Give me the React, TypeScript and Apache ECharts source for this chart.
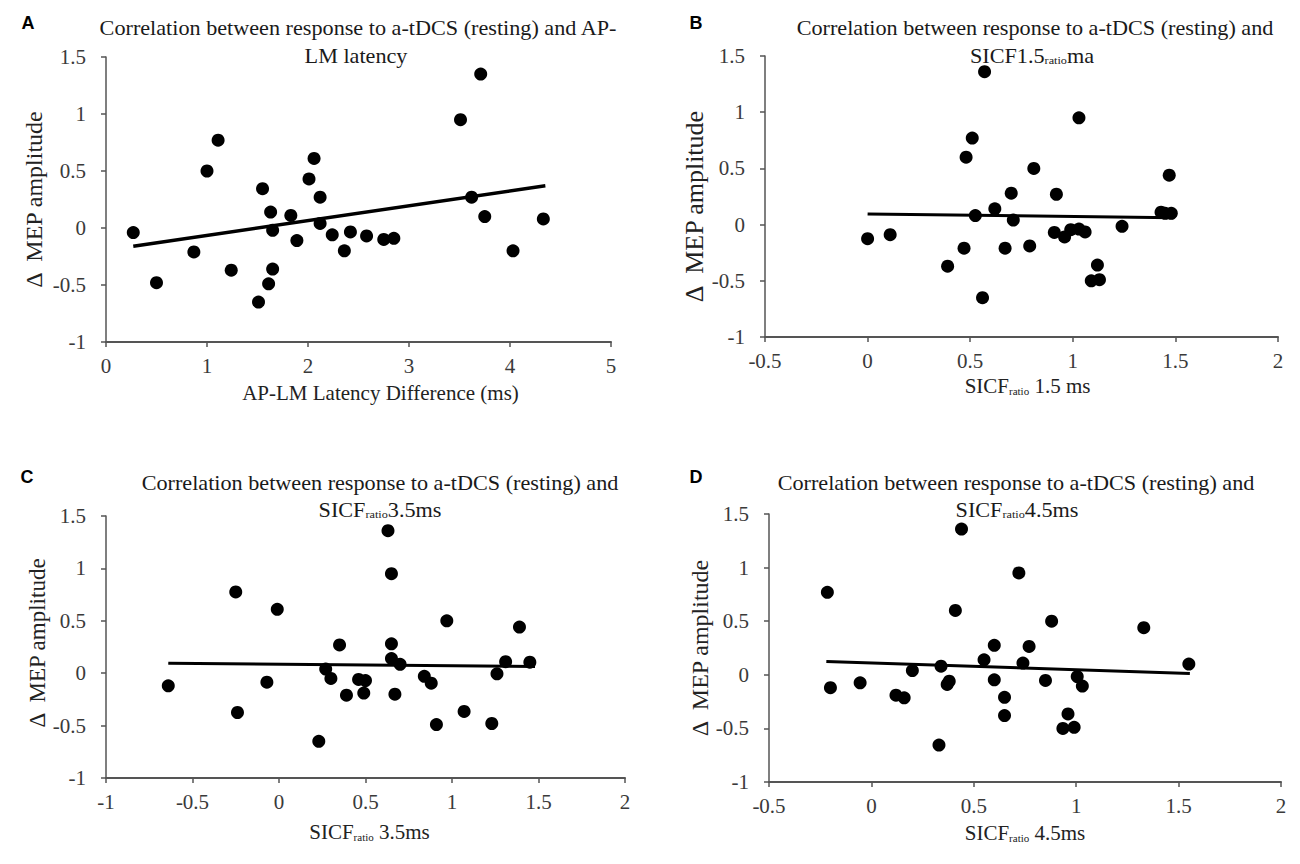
import React, { useEffect, useRef } from "react";
import * as echarts from "echarts";

// ---- Panel A: AP-LM latency difference vs Δ MEP amplitude
const aX = [0.27, 0.5, 0.87, 1.0, 1.11, 1.24, 1.51, 1.55, 1.61, 1.63, 1.65, 1.65, 1.83, 1.89, 2.01, 2.06, 2.12, 2.12, 2.24, 2.36, 2.42, 2.58, 2.75, 2.85, 3.51, 3.62, 3.71, 3.75, 4.03, 4.33];
const aY = [-0.04, -0.48, -0.21, 0.5, 0.77, -0.37, -0.65, 0.345, -0.49, 0.14, -0.02, -0.36, 0.11, -0.11, 0.43, 0.61, 0.27, 0.04, -0.06, -0.2, -0.035, -0.07, -0.1, -0.09, 0.95, 0.27, 1.35, 0.1, -0.2, 0.08];
const aTrendX = [0.27, 4.35];
const aTrendY = [-0.16, 0.37];

// ---- Panel B: SICF ratio 1.5 ms
const bX = [0.0, 0.11, 0.39, 0.47, 0.48, 0.51, 0.525, 0.56, 0.57, 0.62, 0.67, 0.7, 0.71, 0.79, 0.81, 0.91, 0.92, 0.96, 0.99, 1.03, 1.03, 1.06, 1.09, 1.12, 1.13, 1.24, 1.43, 1.45, 1.47, 1.48];
const bY = [-0.125, -0.09, -0.37, -0.21, 0.6, 0.77, 0.08, -0.65, 1.36, 0.14, -0.21, 0.28, 0.04, -0.19, 0.5, -0.07, 0.27, -0.11, -0.045, -0.04, 0.95, -0.065, -0.5, -0.36, -0.49, -0.015, 0.11, 0.1, 0.44, 0.1];
const bTrendX = [0.0, 1.49];
const bTrendY = [0.095, 0.062];

// ---- Panel C: SICF ratio 3.5 ms
const cX = [-0.64, -0.25, -0.24, -0.07, -0.01, 0.23, 0.27, 0.3, 0.35, 0.39, 0.46, 0.49, 0.5, 0.63, 0.65, 0.65, 0.65, 0.67, 0.7, 0.84, 0.88, 0.91, 0.97, 1.07, 1.23, 1.26, 1.31, 1.39, 1.45];
const cY = [-0.12, 0.775, -0.375, -0.086, 0.61, -0.65, 0.04, -0.05, 0.27, -0.21, -0.06, -0.19, -0.07, 1.36, 0.95, 0.28, 0.14, -0.2, 0.085, -0.03, -0.095, -0.49, 0.5, -0.365, -0.48, -0.006, 0.11, 0.44, 0.105];
const cTrendX = [-0.64, 1.48];
const cTrendY = [0.095, 0.064];

// ---- Panel D: SICF ratio 4.5 ms
const dX = [-0.215, -0.2, -0.055, 0.12, 0.16, 0.2, 0.33, 0.34, 0.37, 0.38, 0.41, 0.44, 0.55, 0.6, 0.6, 0.65, 0.65, 0.72, 0.74, 0.77, 0.85, 0.88, 0.935, 0.96, 0.99, 1.005, 1.03, 1.33, 1.55];
const dY = [0.77, -0.12, -0.075, -0.19, -0.215, 0.04, -0.655, 0.08, -0.09, -0.06, 0.6, 1.36, 0.14, 0.275, -0.047, -0.21, -0.38, 0.95, 0.11, 0.265, -0.053, 0.5, -0.5, -0.365, -0.49, -0.016, -0.105, 0.44, 0.1];
const dTrendX = [-0.22, 1.555];
const dTrendY = [0.125, 0.013];

// ---- Axis ranges
const xRanges = [
  { min: 0, max: 5, interval: 1 },
  { min: -0.5, max: 2, interval: 0.5 },
  { min: -1, max: 2, interval: 0.5 },
  { min: -0.5, max: 2, interval: 0.5 },
];
const yRange = { min: -1, max: 1.5, interval: 0.5 };

// ---- Texts
const panelLetters = ["A", "B", "C", "D"];
const titleLine1 = [
  "Correlation between response to a-tDCS (resting) and AP-",
  "Correlation between response to a-tDCS (resting) and",
  "Correlation between response to a-tDCS (resting) and",
  "Correlation between response to a-tDCS (resting) and",
];
const titleLine2 = [
  "LM latency",
  "SICF1.5{sub|ratio}ma",
  "SICF{sub|ratio}3.5ms",
  "SICF{sub|ratio}4.5ms",
];
const xNames = [
  "{t|AP-LM Latency Difference (ms)}",
  "{t|SICF}{sub|ratio}{t| 1.5 ms}",
  "{t|SICF}{sub|ratio}{t| 3.5ms}",
  "{t|SICF}{sub|ratio}{t| 4.5ms}",
];
const yName = "{n|Δ  MEP amplitude}";

const SERIF = "Liberation Serif";

export default function App() {
  const ref = useRef<HTMLDivElement>(null);

  useEffect(() => {
    if (!ref.current) return;
    const chart = echarts.init(ref.current, undefined, { renderer: "svg" });

    const grids = [
      { left: 106, top: 57, width: 505, height: 285 },
      { left: 765, top: 56, width: 513, height: 281 },
      { left: 106, top: 516, width: 519, height: 262 },
      { left: 769, top: 514, width: 512, height: 268 },
    ];
    const xNameGaps = [40, 38, 43, 40];
    const yNameGaps = [60, 51, 50, 55];
    const yNameSizes = [24, 26, 23, 24];
    const yNamePad = [[0, 0, 0, 0], [0, 20, 0, 0], [0, 0, 0, 8], [0, 0, 0, 0]];
    const xNamePad = [[0, 0, 0, 44], [0, 0, 0, 12], [0, 0, 0, 8], [0, 0, 0, 0]];

    const subRich = {
      sub: { fontSize: 11, fontFamily: SERIF, fill: "#222", color: "#222", verticalAlign: "bottom" },
    };

    const points = [
      [aX, aY],
      [bX, bY],
      [cX, cY],
      [dX, dY],
    ];
    const trends = [
      [aTrendX, aTrendY],
      [bTrendX, bTrendY],
      [cTrendX, cTrendY],
      [dTrendX, dTrendY],
    ];

    const axisLineColor = "#555";
    const labelRich = {
      v: { fontFamily: SERIF, fontSize: 21, color: "#3a3a3a" },
    };
    const labelFormatter = (v: number) => `{v|${v}}`;

    const xAxis = xRanges.map((r, i) => ({
      type: "value",
      gridIndex: i,
      min: r.min,
      max: r.max,
      interval: r.interval,
      splitLine: { show: false },
      axisLine: { show: true, onZero: false, lineStyle: { color: axisLineColor, width: 2 } },
      axisTick: { show: true, inside: false, length: 5, lineStyle: { color: axisLineColor, width: 1.5 } },
      axisLabel: {
        fontFamily: SERIF,
        fontSize: 21,
        color: "#3a3a3a",
        margin: 13,
        formatter: labelFormatter,
        rich: labelRich,
      },
      name: xNames[i],
      nameLocation: "middle",
      nameGap: xNameGaps[i],
      nameTextStyle: {
        fontFamily: SERIF,
        fontSize: 21,
        color: "#222",
        padding: xNamePad[i],
        rich: {
          t: { fontFamily: SERIF, fontSize: 21, color: "#222", verticalAlign: "bottom" },
          sub: { fontFamily: SERIF, fontSize: 11, color: "#222", verticalAlign: "bottom" },
        },
      },
    }));

    const yAxis = grids.map((_, i) => ({
      type: "value",
      gridIndex: i,
      min: yRange.min,
      max: yRange.max,
      interval: yRange.interval,
      splitLine: { show: false },
      axisLine: { show: true, onZero: false, lineStyle: { color: axisLineColor, width: 1.5 } },
      axisTick: { show: true, inside: false, length: 5, lineStyle: { color: axisLineColor, width: 1.5 } },
      axisLabel: {
        fontFamily: SERIF,
        fontSize: 21,
        color: "#3a3a3a",
        margin: 20,
        formatter: labelFormatter,
        rich: labelRich,
      },
      name: yName,
      nameLocation: "middle",
      nameGap: yNameGaps[i],
      nameRotate: 90,
      nameTextStyle: {
        fontFamily: SERIF,
        fontSize: yNameSizes[i],
        color: "#222",
        padding: yNamePad[i],
        rich: { n: { fontFamily: SERIF, fontSize: yNameSizes[i], color: "#222" } },
      },
    }));

    const series: any[] = [];
    points.forEach(([xs, ys], i) => {
      series.push({
        type: "scatter",
        xAxisIndex: i,
        yAxisIndex: i,
        symbol: "circle",
        symbolSize: 13,
        itemStyle: { color: "#000", opacity: 1 },
        data: xs.map((x, k) => [x, ys[k]]),
        z: 3,
      });
    });
    trends.forEach(([xs, ys], i) => {
      series.push({
        type: "line",
        xAxisIndex: i,
        yAxisIndex: i,
        symbol: "none",
        lineStyle: { color: "#000", width: i === 0 ? 3.5 : 3 },
        data: xs.map((x, k) => [x, ys[k]]),
        z: 2,
      });
    });

    const titlePos = [
      { x1: 358, y1: 28, x2: 356, y2: 56 },
      { x1: 1035, y1: 28, x2: 1032, y2: 56 },
      { x1: 380, y1: 483, x2: 380, y2: 510 },
      { x1: 1016, y1: 483, x2: 1017, y2: 510 },
    ];
    const letterPos = [
      [28, 23],
      [696, 23],
      [27, 477],
      [696, 477],
    ];

    const graphic: any[] = [];
    titlePos.forEach((p, i) => {
      graphic.push({
        type: "text",
        x: p.x1,
        y: p.y1,
        scaleX: 1.11,
        style: {
          text: titleLine1[i],
          fontFamily: SERIF,
          fontSize: 20,
          fill: "#1a1a1a",
          align: "center",
          verticalAlign: "middle",
        },
      });
      graphic.push({
        type: "text",
        x: p.x2,
        y: p.y2,
        scaleX: 1.11,
        style: {
          text: titleLine2[i],
          fontFamily: SERIF,
          fontSize: 20,
          fill: "#1a1a1a",
          align: "center",
          verticalAlign: "middle",
          rich: subRich,
        },
      });
    });
    letterPos.forEach((p, i) => {
      graphic.push({
        type: "text",
        x: p[0],
        y: p[1],
        style: {
          text: panelLetters[i],
          fontFamily: "Liberation Sans",
          fontWeight: "bold",
          fontSize: 18,
          fill: "#000",
          align: "center",
          verticalAlign: "middle",
        },
      });
    });

    chart.setOption({
      animation: false,
      backgroundColor: "#fff",
      textStyle: { fontFamily: SERIF },
      grid: grids.map((g) => ({ ...g, containLabel: false })),
      xAxis,
      yAxis,
      series,
      graphic,
    });

    return () => chart.dispose();
  }, []);

  return (
    <div
      ref={ref}
      style={{ position: "fixed", left: 0, top: 0, width: 1300, height: 864, background: "#fff" }}
    />
  );
}
